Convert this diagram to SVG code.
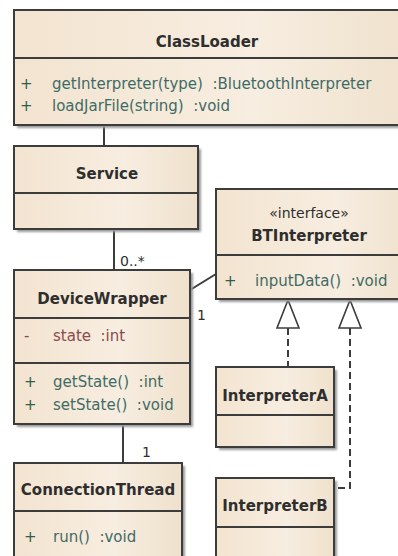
<svg xmlns="http://www.w3.org/2000/svg" width="398" height="556" viewBox="0 0 398 556">
<defs>
<linearGradient id="g" x1="0" y1="0" x2="1" y2="0">
<stop offset="0" stop-color="#f3e4d0"/>
<stop offset="0.6" stop-color="#f7ede0"/>
<stop offset="1" stop-color="#efe1cc"/>
</linearGradient>
<filter id="sh" x="-10%" y="-10%" width="130%" height="130%">
<feGaussianBlur stdDeviation="1.2"/>
</filter>
</defs>
<style>
.box{fill:url(#g);stroke:#3c3c3c;stroke-width:2}
.shadow{fill:#9a9a9a;filter:url(#sh)}
.sep{stroke:#3c3c3c;stroke-width:2}
text{white-space:pre}
.title{font-family:"DejaVu Sans",sans-serif;font-weight:bold;font-size:15px;fill:#2e2e2e;text-anchor:middle}
.stereo{font-family:"DejaVu Sans",sans-serif;font-size:14px;fill:#2e2e2e;text-anchor:middle}
.op{font-family:"DejaVu Sans",sans-serif;font-size:15px;fill:#3f6b66}
.attr{font-family:"DejaVu Sans",sans-serif;font-size:15px;fill:#8a4b4b}
.vis{font-family:"DejaVu Sans",sans-serif;font-size:15px;fill:#2f5f4a}
.lbl{font-family:"DejaVu Sans",sans-serif;font-size:14px;fill:#2e2e2e}
.conn{stroke:#3c3c3c;stroke-width:2;fill:none}
.dash{stroke:#3c3c3c;stroke-width:2;fill:none;stroke-dasharray:7,4}
.tri{fill:#ffffff;stroke:#3c3c3c;stroke-width:1.6}
</style>
<rect width="398" height="556" fill="#ffffff"/>

<g id="connectors">
<line class="conn" x1="104" y1="125" x2="104" y2="146"/>
<line class="conn" x1="114" y1="229" x2="114" y2="270"/>
<text class="lbl" x="120" y="266">0..*</text>
<line class="conn" x1="123" y1="424" x2="123" y2="463"/>
<text class="lbl" x="142" y="457">1</text>
<line class="conn" x1="190" y1="290" x2="216" y2="274"/>
<text class="lbl" x="197" y="320">1</text>
<path class="dash" d="M288,328 V367"/>
<path class="dash" d="M350,328 V488 H335"/>
<polygon class="tri" points="288,300 277,328 299,328"/>
<polygon class="tri" points="350,300 339,328 361,328"/>
</g>

<g id="ClassLoader">
<rect class="shadow" x="17" y="13" width="390" height="115"/>
<rect class="box" x="14" y="10" width="400" height="115"/>
<line class="sep" x1="14" y1="58" x2="398" y2="58"/>
<text class="title" x="207" y="47">ClassLoader</text>
<text class="vis" x="20" y="89">+</text>
<text class="op" x="52" y="89" xml:space="preserve">getInterpreter(type)  :BluetoothInterpreter</text>
<text class="vis" x="20" y="111">+</text>
<text class="op" x="52" y="111" xml:space="preserve">loadJarFile(string)  :void</text>
</g>

<g id="Service">
<rect class="shadow" x="17" y="149" width="184" height="83"/>
<rect class="box" x="14" y="146" width="184" height="83"/>
<line class="sep" x1="14" y1="193" x2="198" y2="193"/>
<text class="title" x="107" y="179">Service</text>
</g>

<g id="DeviceWrapper">
<rect class="shadow" x="17" y="273" width="176" height="154"/>
<rect class="box" x="14" y="270" width="176" height="154"/>
<line class="sep" x1="14" y1="318" x2="190" y2="318"/>
<line class="sep" x1="14" y1="363" x2="190" y2="363"/>
<text class="title" x="102" y="304">DeviceWrapper</text>
<text class="attr" x="24" y="341">-</text>
<text class="attr" x="53" y="341" xml:space="preserve">state  :int</text>
<text class="vis" x="24" y="387">+</text>
<text class="op" x="53" y="387" xml:space="preserve">getState()  :int</text>
<text class="vis" x="24" y="410">+</text>
<text class="op" x="53" y="410" xml:space="preserve">setState()  :void</text>
</g>

<g id="ConnectionThread">
<rect class="shadow" x="17" y="466" width="168" height="100"/>
<rect class="box" x="14" y="463" width="168" height="100"/>
<line class="sep" x1="14" y1="511" x2="182" y2="511"/>
<text class="title" x="98" y="495">ConnectionThread</text>
<text class="vis" x="24" y="542">+</text>
<text class="op" x="53" y="542" xml:space="preserve">run()  :void</text>
</g>

<g id="BTInterpreter">
<rect class="shadow" x="219" y="192" width="190" height="110"/>
<rect class="box" x="216" y="189" width="200" height="110"/>
<line class="sep" x1="216" y1="255" x2="398" y2="255"/>
<text class="stereo" x="309" y="218">«interface»</text>
<text class="title" x="309" y="241">BTInterpreter</text>
<text class="vis" x="224" y="286">+</text>
<text class="op" x="255" y="286" xml:space="preserve">inputData()  :void</text>
</g>

<g id="InterpreterA">
<rect class="shadow" x="219" y="370" width="118" height="80"/>
<rect class="box" x="216" y="367" width="118" height="80"/>
<line class="sep" x1="216" y1="415" x2="334" y2="415"/>
<text class="title" x="275" y="401">InterpreterA</text>
</g>

<g id="InterpreterB">
<rect class="shadow" x="219" y="481" width="118" height="90"/>
<rect class="box" x="216" y="478" width="118" height="90"/>
<line class="sep" x1="216" y1="527" x2="334" y2="527"/>
<text class="title" x="275" y="511">InterpreterB</text>
</g>
</svg>
